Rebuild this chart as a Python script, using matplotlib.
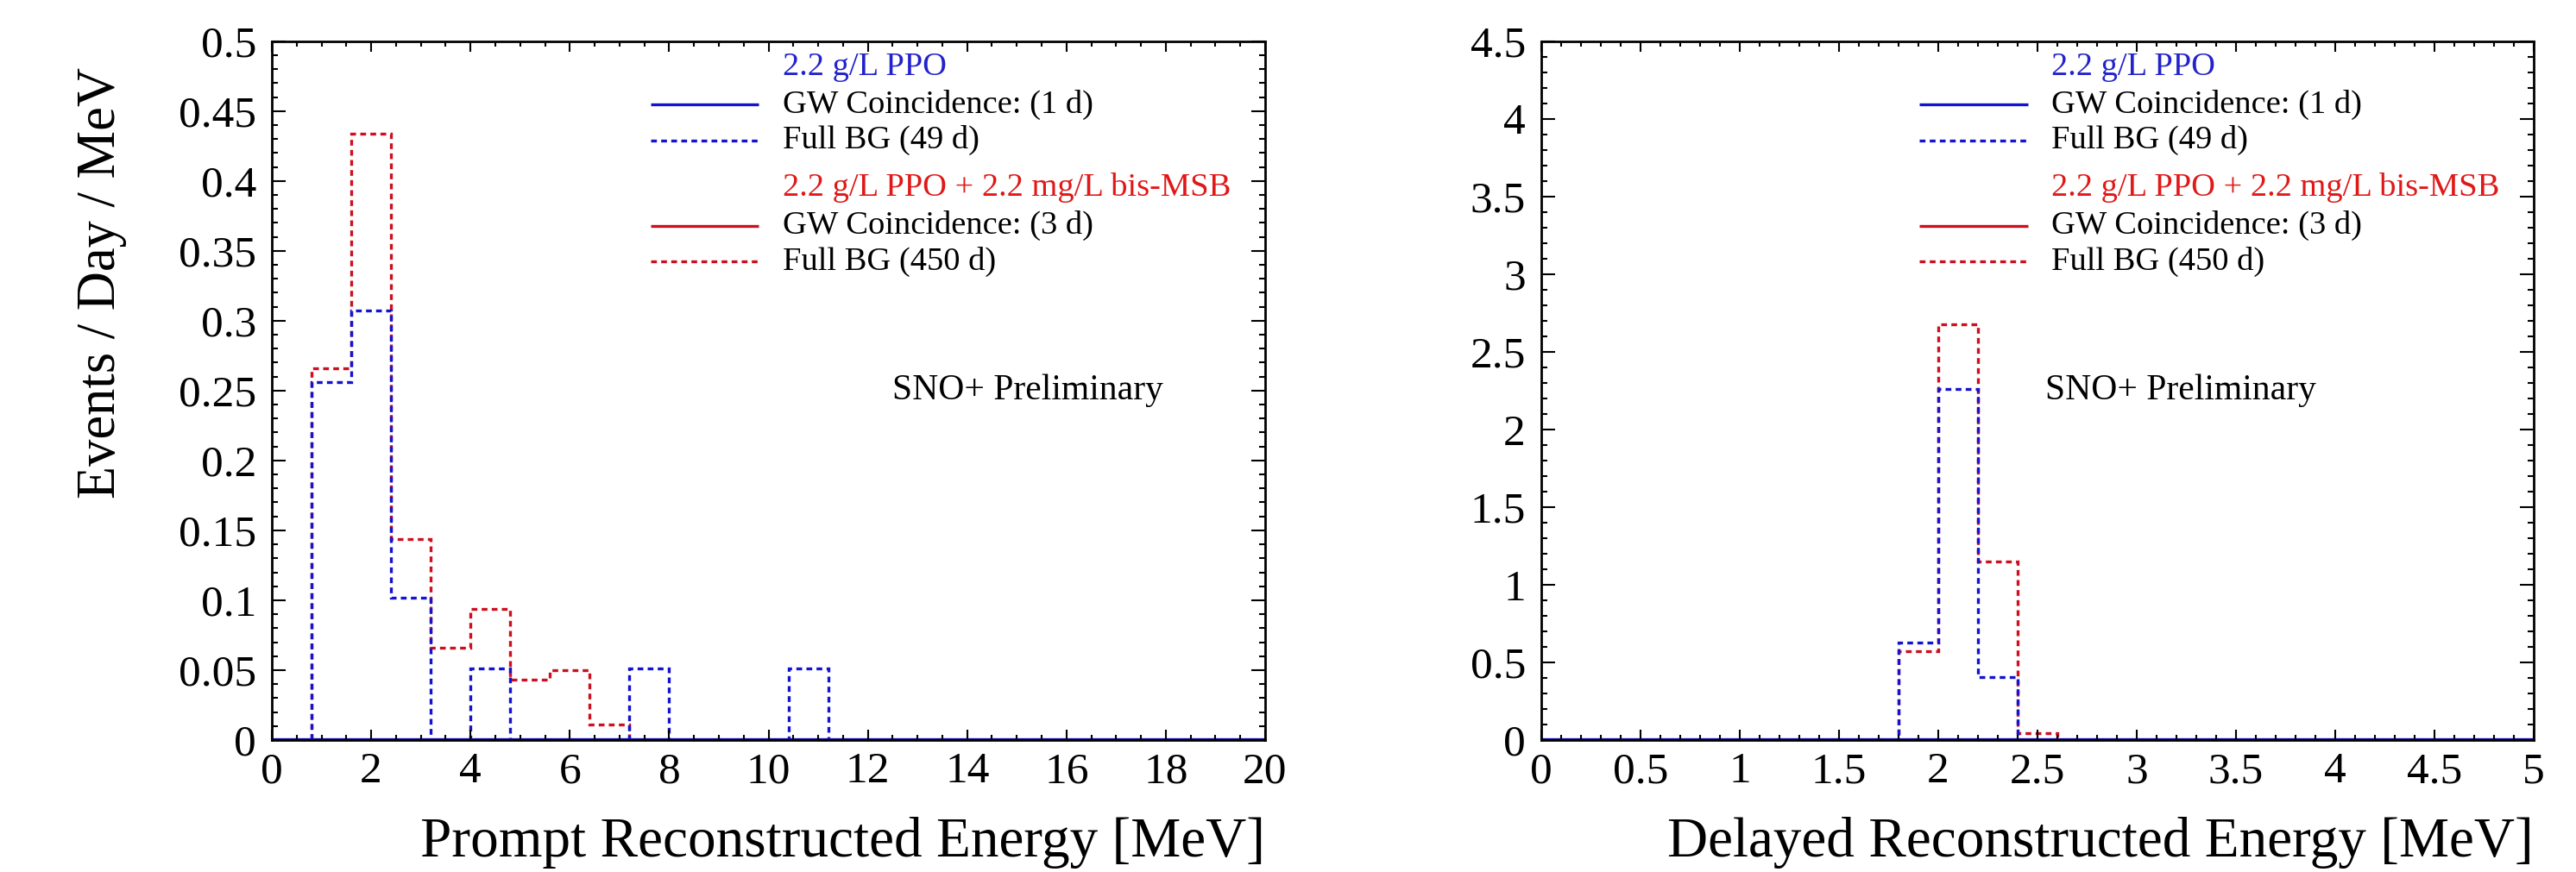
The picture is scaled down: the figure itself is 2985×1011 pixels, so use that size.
import matplotlib
matplotlib.use("Agg")

import matplotlib.pyplot as plt
import numpy as np
from matplotlib.ticker import MultipleLocator, FuncFormatter

plt.rcParams["font.family"] = ["Liberation Serif", "DejaVu Serif"]

# --------------------------
# data (events / day / MeV)
# --------------------------
prompt_lo, prompt_hi, prompt_nbins = 0.0, 20.0, 25      # 0.8 MeV bins
delayed_lo, delayed_hi, delayed_nbins = 0.0, 5.0, 25    # 0.2 MeV bins

prompt_ppo_bg = [0, 0.256, 0.307, 0.102, 0, 0.051, 0, 0, 0, 0.051, 0, 0, 0,
                 0.051, 0, 0, 0, 0, 0, 0, 0, 0, 0, 0, 0]
prompt_msb_bg = [0, 0.266, 0.434, 0.144, 0.066, 0.094, 0.043, 0.050, 0.011,
                 0, 0, 0, 0, 0, 0, 0, 0, 0, 0, 0, 0, 0, 0, 0, 0]
prompt_ppo_gw = [0] * 25
prompt_msb_gw = [0] * 25

delayed_ppo_bg = [0, 0, 0, 0, 0, 0, 0, 0, 0, 0.626, 2.26, 0.405, 0,
                  0, 0, 0, 0, 0, 0, 0, 0, 0, 0, 0, 0]
delayed_msb_bg = [0, 0, 0, 0, 0, 0, 0, 0, 0, 0.571, 2.675, 1.151, 0.042,
                  0, 0, 0, 0, 0, 0, 0, 0, 0, 0, 0, 0]
delayed_ppo_gw = [0] * 25
delayed_msb_gw = [0] * 25

legend_rows = ["2.2 g/L PPO", "GW Coincidence: (1 d)", "Full BG (49 d)",
               "2.2 g/L PPO + 2.2 mg/L bis-MSB", "GW Coincidence: (3 d)",
               "Full BG (450 d)"]

BLUE = "#1414cc"
RED = "#cc1020"
BLUE_TXT = "#2222cc"
RED_TXT = "#e01818"
DOT = (0, (2.0, 1.5))

W, H = 2985, 1011
fig = plt.figure(figsize=(W / 100, H / 100), dpi=100)

ax_top, ax_bot = 47.7, 858
axes_px = [(315, 1466), (1786, 2936)]


def make_axes(x0, x1):
    return fig.add_axes([x0 / W, 1 - ax_bot / H, (x1 - x0) / W, (ax_bot - ax_top) / H])


def style_axes(ax, xmaj, xmin, ymaj, ymin):
    ax.xaxis.set_major_locator(MultipleLocator(xmaj))
    ax.xaxis.set_minor_locator(MultipleLocator(xmin))
    ax.yaxis.set_major_locator(MultipleLocator(ymaj))
    ax.yaxis.set_minor_locator(MultipleLocator(ymin))
    fmt = FuncFormatter(lambda v, p: "%g" % round(v, 4))
    ax.xaxis.set_major_formatter(fmt)
    ax.yaxis.set_major_formatter(fmt)
    ax.tick_params(which="both", direction="in", top=True, right=True,
                   width=1.5, labelsize=37, colors="black")
    ax.tick_params(axis="x", which="major", length=8.6, pad=10)
    ax.tick_params(axis="x", which="minor", length=4.3)
    ax.tick_params(axis="y", which="major", length=11.5, pad=13)
    ax.tick_params(axis="y", which="minor", length=5)
    for s in ax.spines.values():
        s.set_linewidth(2.0)


def draw_legend(ax):
    ys = [0.963, 0.909, 0.858, 0.790, 0.736, 0.685]
    colors = [BLUE_TXT, "black", "black", RED_TXT, "black", "black"]
    for txt, y, c in zip(legend_rows, ys, colors):
        ax.text(0.514, y, txt, transform=ax.transAxes, fontsize=27.7,
                color=c, ha="left", va="center")
    ax.plot([0.381, 0.490], [ys[1]] * 2, transform=ax.transAxes,
            color=BLUE, lw=2.4, solid_capstyle="butt", clip_on=False)
    ax.plot([0.381, 0.490], [ys[2]] * 2, transform=ax.transAxes,
            color=BLUE, lw=2.4, ls=DOT, clip_on=False)
    ax.plot([0.381, 0.490], [ys[4]] * 2, transform=ax.transAxes,
            color=RED, lw=2.4, solid_capstyle="butt", clip_on=False)
    ax.plot([0.381, 0.490], [ys[5]] * 2, transform=ax.transAxes,
            color=RED, lw=2.4, ls=DOT, clip_on=False)


panels = [
    (prompt_lo, prompt_hi, prompt_nbins, prompt_ppo_bg, prompt_msb_bg,
     prompt_ppo_gw, prompt_msb_gw, 0.5, (2, 0.5, 0.05, 0.01), 0.625,
     "Prompt Reconstructed Energy [MeV]"),
    (delayed_lo, delayed_hi, delayed_nbins, delayed_ppo_bg, delayed_msb_bg,
     delayed_ppo_gw, delayed_msb_gw, 4.5, (0.5, 0.1, 0.5, 0.1), 0.508,
     "Delayed Reconstructed Energy [MeV]"),
]

for (x0, x1), p in zip(axes_px, panels):
    lo, hi, nb, ppo_bg, msb_bg, ppo_gw, msb_gw, ymax, loc, sno_x, xlabel = p
    ax = make_axes(x0, x1)
    edges = np.linspace(lo, hi, nb + 1)

    ax.stairs(msb_bg, edges, baseline=0, color=RED, lw=2.4, ls=DOT)
    ax.stairs(ppo_bg, edges, baseline=0, color=BLUE, lw=2.4, ls=DOT)
    ax.stairs(msb_gw, edges, baseline=0, color=RED, lw=3.0)
    ax.stairs(ppo_gw, edges, baseline=0, color="#1010b0", lw=3.0)

    ax.set_xlim(lo, hi)
    ax.set_ylim(0, ymax)
    style_axes(ax, *loc)
    draw_legend(ax)

    ax.text(sno_x, 0.5, "SNO+ Preliminary", transform=ax.transAxes,
            fontsize=30, ha="left", va="center")

    fig.text(x1 / W, 1 - 993 / H, xlabel, fontsize=47, ha="right", va="baseline")

fig.text(118 / W, 1 - 78 / H, "Events / Day / MeV", fontsize=45,
         rotation=90, ha="center", va="top")

fig.savefig("out.png", dpi=100)
